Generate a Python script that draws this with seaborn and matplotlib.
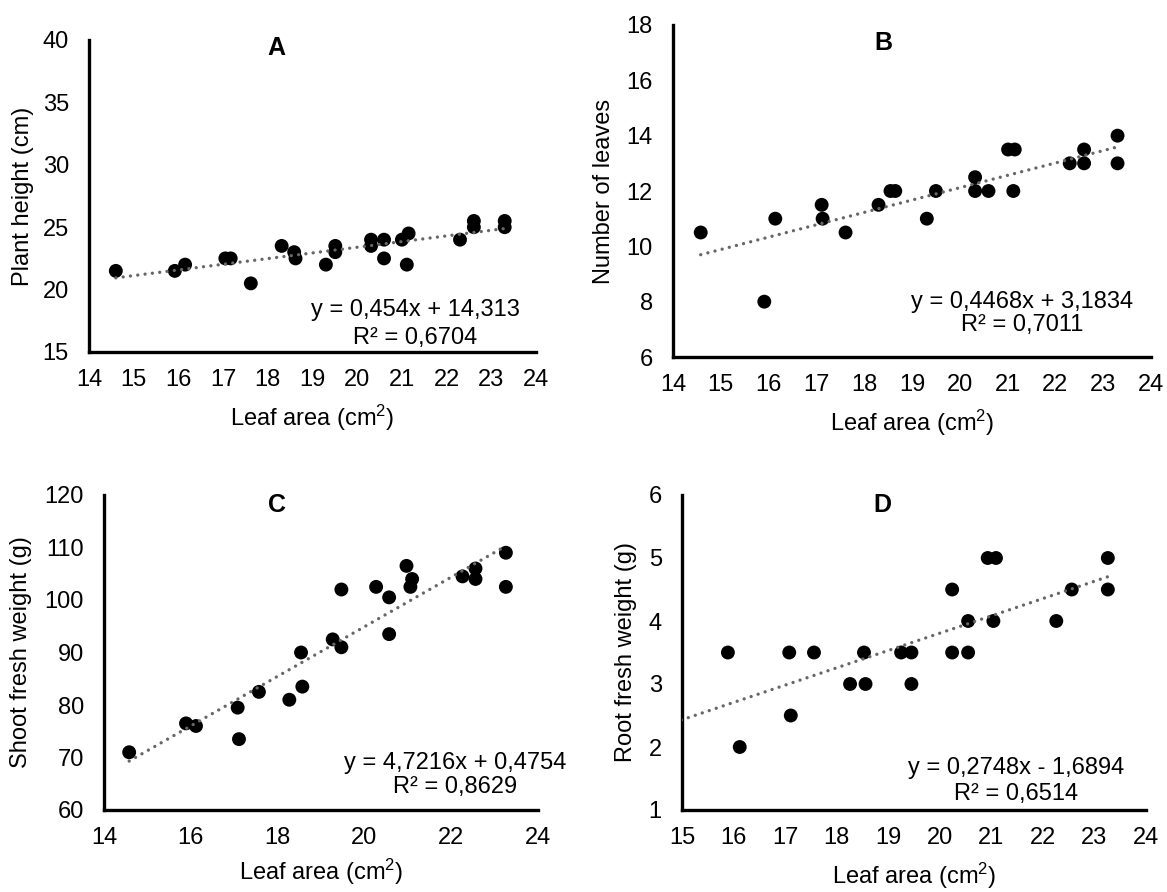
import matplotlib
matplotlib.use("Agg")
import matplotlib.pyplot as plt
import seaborn as sns
import pandas as pd

sns.set_style("white")
plt.rcParams["font.family"] = ["Liberation Sans", "DejaVu Sans"]
plt.rcParams["mathtext.fontset"] = "custom"
plt.rcParams["mathtext.rm"] = "Liberation Sans"
plt.rcParams["mathtext.default"] = "regular"
for key in ("text.color", "axes.labelcolor", "xtick.color", "ytick.color"):
    plt.rcParams[key] = "black"

# ---- data: leaf area (cm2) vs growth traits ----
leaf_a = [14.60, 15.92, 16.15, 17.05, 17.17, 17.62, 18.31, 18.59, 18.62, 19.30, 19.51, 19.51,
          20.31, 20.31, 20.60, 20.60, 21.00, 21.15, 21.11, 22.30, 22.61, 22.61, 23.30, 23.30]
plant_height = [21.5, 21.5, 22.0, 22.5, 22.5, 20.5, 23.5, 23.0, 22.5, 22.0, 23.5, 23.0,
                24.0, 23.5, 24.0, 22.5, 24.0, 24.5, 22.0, 24.0, 25.5, 25.0, 25.5, 25.0]

leaf_b = [14.58, 15.91, 16.14, 17.11, 17.13, 17.61, 18.30, 18.55, 18.65, 19.31, 19.50,
          20.32, 20.32, 20.60, 21.01, 21.15, 21.12, 22.30, 22.60, 22.60, 23.30, 23.30]
n_leaves = [10.5, 8.0, 11.0, 11.5, 11.0, 10.5, 11.5, 12.0, 12.0, 11.0, 12.0,
            12.5, 12.0, 12.0, 13.5, 13.5, 12.0, 13.0, 13.0, 13.5, 13.0, 14.0]

leaf_c = [14.58, 15.89, 16.12, 17.08, 17.11, 17.57, 18.27, 18.54, 18.57, 19.27, 19.47, 19.47,
          20.27, 20.57, 20.57, 20.97, 21.06, 21.10, 22.26, 22.56, 22.56, 23.26, 23.26]
shoot_fw = [71.0, 76.5, 76.0, 79.5, 73.5, 82.5, 81.0, 90.0, 83.5, 92.5, 102.0, 91.0,
            102.5, 100.5, 93.5, 106.5, 102.5, 104.0, 104.5, 106.0, 104.0, 109.0, 102.5]

leaf_d = [15.89, 16.12, 17.08, 17.11, 17.56, 18.26, 18.53, 18.56, 19.25, 19.45, 19.45,
          20.24, 20.24, 20.55, 20.55, 20.93, 21.09, 21.04, 22.26, 22.56, 23.26, 23.26]
root_fw = [3.5, 2.0, 3.5, 2.5, 3.5, 3.0, 3.5, 3.0, 3.5, 3.5, 3.0,
           4.5, 3.5, 4.0, 3.5, 5.0, 5.0, 4.0, 4.0, 4.5, 5.0, 4.5]

# linear trend lines (slope, intercept, R2)
slopes = [0.454, 0.4468, 4.7216, 0.2748]
intercepts = [14.313, 3.1834, 0.4754, -1.6894]
eq_labels = ["y = 0,454x + 14,313", "y = 0,4468x + 3,1834",
             "y = 4,7216x + 0,4754", "y = 0,2748x - 1,6894"]
r2_labels = ["R² = 0,6704", "R² = 0,7011", "R² = 0,8629", "R² = 0,6514"]

panel_letters = ["A", "B", "C", "D"]
y_titles = ["Plant height (cm)", "Number of leaves",
            "Shoot fresh weight (g)", "Root fresh weight (g)"]
x_title = "Leaf area (cm$^{2}$)"

x_ticks = [list(range(14, 25)), list(range(14, 25)), list(range(14, 25, 2)), list(range(15, 25))]
y_ticks = [list(range(15, 41, 5)), list(range(6, 19, 2)), list(range(60, 121, 10)), list(range(1, 7))]

panels = [
    (leaf_a, plant_height, (min(leaf_a), max(leaf_a))),
    (leaf_b, n_leaves, (min(leaf_b), max(leaf_b))),
    (leaf_c, shoot_fw, (min(leaf_c), max(leaf_c))),
    (leaf_d, root_fw, (min(leaf_c), max(leaf_d))),
]

# ---- layout (figure fractions) ----
W, H = 1167, 892
boxes_px = [(89, 40, 536, 352), (673, 25, 1151, 357), (104, 495, 538, 810), (682, 495, 1146, 810)]
ylabel_x = [-0.148, -0.144, -0.191, -0.121]
xlabel_y = [-0.212, -0.199, -0.198, -0.208]
letter_pos = [(0.42, 0.974), (0.44, 0.946), (0.399, 0.968), (0.431, 0.968)]
eq_pos = [(0.73, 0.135, 0.045), (0.73, 0.166, 0.096), (0.81, 0.15, 0.073), (0.72, 0.133, 0.05)]

FS = 17
fig = plt.figure(figsize=(W / 100, H / 100), dpi=100)

for i, (xs, ys, span) in enumerate(panels):
    l, t, r, b = boxes_px[i]
    ax = fig.add_axes([l / W, 1 - b / H, (r - l) / W, (b - t) / H])
    df = pd.DataFrame({"x": xs, "y": ys})

    x0, x1 = span
    line_df = pd.DataFrame({"x": [x0, x1],
                            "y": [slopes[i] * x0 + intercepts[i], slopes[i] * x1 + intercepts[i]]})
    sns.lineplot(data=line_df, x="x", y="y", ax=ax, color="#666666", linewidth=2.4,
                 linestyle=(0, (0.01, 2.2)), dash_capstyle="round", zorder=3)
    sns.scatterplot(data=df, x="x", y="y", ax=ax, color="black", s=100,
                    edgecolor="none", linewidth=0, zorder=2)

    ax.set_xlim(x_ticks[i][0], x_ticks[i][-1])
    ax.set_ylim(y_ticks[i][0], y_ticks[i][-1])
    ax.set_xticks(x_ticks[i])
    ax.set_yticks(y_ticks[i])
    ax.tick_params(axis="both", length=0, labelsize=FS)
    ax.tick_params(axis="x", pad=12)
    ax.tick_params(axis="y", pad=14.5)

    for side in ("top", "right"):
        ax.spines[side].set_visible(False)
    for side in ("left", "bottom"):
        ax.spines[side].set_color("black")
        ax.spines[side].set_linewidth(2.4)

    ax.set_xlabel(x_title, fontsize=FS, va="center")
    ax.xaxis.set_label_coords(0.5, xlabel_y[i])
    ax.set_ylabel(y_titles[i], fontsize=FS, va="center")
    ax.yaxis.set_label_coords(ylabel_x[i], 0.5)

    lx, ly = letter_pos[i]
    ax.text(lx, ly, panel_letters[i], transform=ax.transAxes, ha="center", va="center",
            fontsize=18, fontweight="bold")

    ex, ey, ry = eq_pos[i]
    ax.text(ex, ey, eq_labels[i], transform=ax.transAxes, ha="center", va="center", fontsize=FS)
    ax.text(ex, ry, r2_labels[i], transform=ax.transAxes, ha="center", va="center", fontsize=FS)

fig.savefig("out.png", dpi=100)
